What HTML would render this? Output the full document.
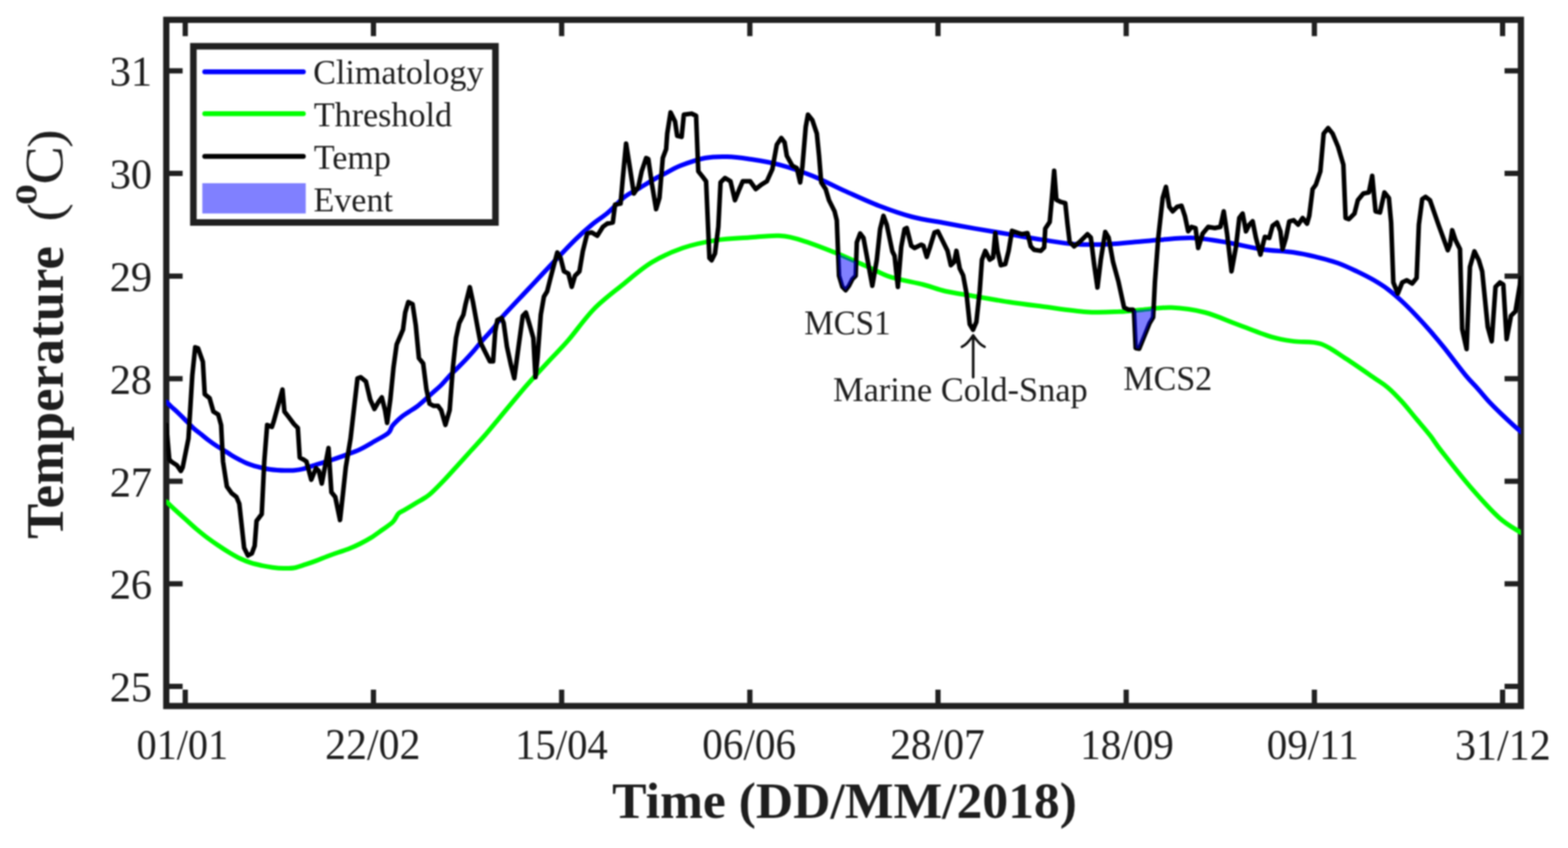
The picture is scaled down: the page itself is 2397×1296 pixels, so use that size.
<!DOCTYPE html><html><head><meta charset="utf-8"><style>html,body{margin:0;padding:0;background:#fff}body{width:2397px;height:1296px;overflow:hidden}svg{display:block;filter:blur(1.2px)}text{font-family:"Liberation Serif","Times New Roman",serif;fill:#1e1e1e}</style></head><body>
<svg width="2397" height="1296" viewBox="0 0 2397 1296">
<rect width="2397" height="1296" fill="#fff"/>
<path d="M283.2,1079.0 V1054.0 M283.2,30.3 V55.3 M570.9,1079.0 V1054.0 M570.9,30.3 V55.3 M858.6,1079.0 V1054.0 M858.6,30.3 V55.3 M1146.3,1079.0 V1054.0 M1146.3,30.3 V55.3 M1433.9,1079.0 V1054.0 M1433.9,30.3 V55.3 M1721.6,1079.0 V1054.0 M1721.6,30.3 V55.3 M2009.3,1079.0 V1054.0 M2009.3,30.3 V55.3 M2297.0,1079.0 V1054.0 M2297.0,30.3 V55.3 M254.2,1049.0 H279.2 M2325.0,1049.0 H2300.0 M254.2,892.2 H279.2 M2325.0,892.2 H2300.0 M254.2,735.4 H279.2 M2325.0,735.4 H2300.0 M254.2,578.7 H279.2 M2325.0,578.7 H2300.0 M254.2,421.9 H279.2 M2325.0,421.9 H2300.0 M254.2,265.1 H279.2 M2325.0,265.1 H2300.0 M254.2,108.3 H279.2 M2325.0,108.3 H2300.0" stroke="#202020" stroke-width="8" fill="none"/>
<rect x="254.2" y="30.3" width="2070.8" height="1048.7" fill="none" stroke="#202020" stroke-width="9.5"/>
<defs><clipPath id="pc"><rect x="254.2" y="30.3" width="2070.8" height="1048.7"/></clipPath></defs>
<g clip-path="url(#pc)">
<path d="M254.6,766.7 C256.6,768.7 261.9,774.0 266.7,778.4 C271.5,782.8 277.8,788.4 283.4,793.4 C289.0,798.4 294.5,803.7 300.1,808.4 C305.7,813.1 311.2,817.6 316.8,821.8 C322.4,826.0 327.9,829.8 333.5,833.5 C339.1,837.2 344.6,841.0 350.2,844.3 C355.8,847.6 361.3,850.9 366.9,853.5 C372.5,856.1 378.0,858.4 383.6,860.2 C389.2,862.0 394.8,863.2 400.3,864.4 C405.9,865.6 411.3,866.5 416.9,867.2 C422.4,867.9 428.0,868.4 433.6,868.5 C439.2,868.6 444.7,868.7 450.3,867.7 C455.9,866.7 461.4,864.5 467.0,862.7 C472.6,860.9 478.1,859.0 483.7,856.9 C489.3,854.8 494.8,852.3 500.4,850.2 C506.0,848.1 511.5,846.2 517.1,844.3 C522.7,842.3 528.2,840.7 533.8,838.5 C539.4,836.3 544.9,833.8 550.5,831.0 C556.1,828.2 561.6,825.3 567.2,821.8 C572.8,818.3 578.3,814.1 583.9,810.1 C589.5,806.1 596.4,801.8 600.6,797.6 C604.8,793.4 606.1,788.0 608.9,785.1 C611.7,782.2 613.1,782.6 617.3,780.1 C621.5,777.6 628.5,773.3 634.0,770.0 C639.5,766.7 645.6,763.4 650.0,760.5 C654.4,757.6 655.1,757.4 660.1,752.7 C665.1,748.1 673.4,739.6 680.1,732.6 C686.8,725.6 693.5,718.0 700.2,710.6 C706.9,703.2 713.5,695.9 720.2,688.5 C726.9,681.1 733.6,674.1 740.3,666.4 C747.0,658.7 753.7,650.4 760.4,642.4 C767.1,634.4 773.7,626.3 780.4,618.3 C787.1,610.3 794.5,601.2 800.5,594.2 C806.5,587.2 809.8,583.6 816.5,576.2 C823.2,568.9 831.9,559.5 840.6,550.1 C849.3,540.7 857.5,533.0 868.7,520.0 C879.9,507.1 894.0,486.6 907.9,472.4 C921.8,458.2 937.4,446.9 952.1,435.0 C966.8,423.1 980.9,410.4 996.2,401.1 C1011.5,391.8 1027.3,384.7 1043.7,379.0 C1060.1,373.3 1077.8,369.8 1094.7,367.1 C1111.6,364.4 1129.0,364.1 1145.0,363.0 C1161.0,361.9 1177.6,359.6 1190.9,360.3 C1204.2,361.0 1210.8,362.9 1224.9,367.1 C1239.1,371.4 1258.8,379.0 1275.8,385.8 C1292.8,392.6 1312.6,401.7 1326.8,407.9 C1341.0,414.1 1346.6,418.7 1360.7,423.2 C1374.8,427.7 1397.5,431.4 1411.6,435.0 C1425.6,438.6 1431.8,442.0 1445.0,445.0 C1458.2,448.0 1474.8,450.2 1490.9,453.0 C1507.1,455.8 1524.9,458.9 1541.9,461.5 C1558.9,464.1 1573.0,465.8 1592.8,468.3 C1612.6,470.8 1640.9,475.4 1660.7,476.7 C1680.5,478.0 1697.5,476.8 1711.6,476.3 C1725.6,475.8 1731.8,474.6 1745.0,473.5 C1758.2,472.4 1774.8,469.3 1790.9,470.0 C1807.1,470.7 1824.9,473.1 1841.9,477.5 C1858.9,481.9 1875.8,490.0 1892.8,496.2 C1909.8,502.4 1929.5,510.6 1943.7,514.8 C1957.9,519.0 1965.2,519.8 1977.7,521.6 C1990.2,523.4 2005.7,521.1 2019.0,525.5 C2032.3,529.9 2043.8,539.4 2057.3,548.0 C2070.8,556.6 2089.3,569.7 2100.0,577.1 C2110.7,584.5 2114.4,586.2 2121.6,592.3 C2128.8,598.4 2136.0,606.0 2143.2,613.9 C2150.4,621.8 2157.6,631.2 2164.8,639.8 C2172.0,648.4 2179.9,657.3 2186.4,665.7 C2192.9,674.1 2193.7,676.9 2204.0,690.0 C2214.3,703.1 2233.3,727.6 2248.0,744.5 C2262.7,761.4 2279.1,779.8 2291.9,791.4 C2304.7,803.0 2319.5,810.2 2325.0,814.0" fill="none" stroke="#00ff00" stroke-width="7" stroke-linejoin="round" stroke-linecap="round"/>
<path d="M254.6,614.3 C255.8,615.4 258.5,618.3 261.6,621.2 C264.7,624.1 269.2,628.0 273.1,631.7 C277.0,635.4 280.8,639.4 284.7,643.2 C288.6,647.1 292.4,651.3 296.3,654.8 C300.2,658.3 304.0,661.0 307.9,664.1 C311.8,667.2 315.5,670.4 319.4,673.3 C323.2,676.2 327.1,678.9 331.0,681.4 C334.9,683.9 338.7,686.0 342.6,688.4 C346.5,690.8 350.4,693.6 354.2,695.9 C358.0,698.2 361.8,700.3 365.7,702.3 C369.6,704.3 373.4,706.5 377.3,708.1 C381.2,709.7 385.0,711.0 388.9,712.1 C392.8,713.2 396.6,714.1 400.5,715.0 C404.4,715.9 408.1,716.7 412.0,717.3 C415.9,717.9 419.7,718.2 423.6,718.5 C427.5,718.8 430.8,719.0 435.2,719.0 C439.6,719.0 445.3,719.1 450.0,718.7 C454.7,718.3 457.5,718.1 463.4,716.6 C469.2,715.1 477.9,711.8 485.1,709.5 C492.3,707.2 499.6,705.4 506.8,703.0 C514.0,700.6 521.3,698.1 528.5,695.4 C535.7,692.7 543.0,690.2 550.2,686.8 C557.4,683.4 564.6,679.0 571.8,674.8 C579.0,670.6 588.8,665.8 593.5,661.8 C598.2,657.8 596.9,654.5 600.0,650.6 C603.1,646.7 608.2,641.8 612.3,638.3 C616.4,634.8 620.6,632.4 624.7,629.6 C628.8,626.8 632.9,624.7 637.0,621.6 C641.1,618.5 645.3,614.7 649.4,611.1 C653.5,607.5 657.6,603.7 661.7,600.0 C665.8,596.3 670.0,593.0 674.1,588.9 C678.2,584.8 682.3,579.6 686.4,575.3 C690.5,571.0 694.7,567.1 698.8,563.0 C702.9,558.9 707.0,554.9 711.1,550.6 C715.2,546.3 719.4,541.7 723.5,537.0 C727.6,532.3 731.7,526.9 735.8,522.2 C739.9,517.5 744.8,512.3 748.1,508.6 C751.4,504.9 752.5,503.9 755.6,500.0 C758.7,496.1 757.9,495.4 766.8,485.5 C775.7,475.6 795.9,454.4 808.9,440.5 C821.9,426.6 833.1,414.5 845.0,402.0 C856.9,389.5 870.0,375.4 880.0,365.7 C890.0,355.9 896.5,350.3 904.7,343.5 C912.9,336.7 921.2,331.9 929.4,324.9 C937.6,317.9 945.9,307.9 954.1,301.5 C962.3,295.1 970.6,291.6 978.8,286.7 C987.0,281.8 997.3,275.4 1003.5,271.9 C1009.7,268.4 1009.7,268.8 1015.8,265.7 C1021.9,262.6 1029.7,257.3 1040.0,253.3 C1050.3,249.3 1065.8,243.8 1077.7,241.5 C1089.6,239.2 1100.4,239.2 1111.6,239.5 C1122.8,239.8 1131.8,241.0 1145.0,243.0 C1158.2,245.0 1174.8,247.4 1190.9,251.7 C1207.1,256.0 1224.9,261.9 1241.9,268.7 C1258.9,275.5 1275.8,284.8 1292.8,292.4 C1309.8,300.0 1326.7,308.0 1343.7,314.5 C1360.7,321.0 1377.8,327.1 1394.7,331.5 C1411.6,335.9 1429.0,338.0 1445.0,341.0 C1461.0,344.0 1474.8,346.6 1490.9,349.4 C1507.1,352.2 1524.9,355.1 1541.9,357.9 C1558.9,360.7 1575.8,363.8 1592.8,366.4 C1609.8,368.9 1626.7,372.1 1643.7,373.2 C1660.7,374.3 1677.8,373.9 1694.7,373.2 C1711.6,372.5 1731.8,370.1 1745.0,369.0 C1758.2,367.9 1760.7,367.4 1774.0,366.5 C1787.3,365.6 1807.9,363.0 1824.9,363.7 C1841.9,364.4 1858.8,367.7 1875.8,370.5 C1892.8,373.3 1909.8,378.1 1926.8,380.7 C1943.8,383.2 1963.6,383.8 1977.7,385.8 C1991.8,387.8 2000.4,389.9 2011.6,392.6 C2022.8,395.3 2034.6,398.3 2045.0,402.0 C2055.4,405.7 2064.8,410.3 2074.0,414.7 C2083.2,419.1 2092.1,423.5 2100.0,428.1 C2107.9,432.7 2114.4,436.7 2121.6,442.1 C2128.8,447.5 2136.0,453.8 2143.2,460.5 C2150.4,467.2 2157.6,474.5 2164.8,482.1 C2172.0,489.7 2179.2,497.6 2186.4,505.9 C2193.6,514.2 2199.1,520.6 2208.0,531.8 C2216.9,543.0 2231.6,562.8 2240.0,573.0 C2248.4,583.2 2252.3,586.4 2258.5,593.3 C2264.7,600.2 2270.8,608.0 2277.0,614.6 C2283.2,621.2 2289.4,627.2 2295.6,633.1 C2301.8,639.0 2309.0,645.7 2314.1,650.3 C2319.2,654.9 2324.0,658.8 2326.0,660.5" fill="none" stroke="#0000ff" stroke-width="7" stroke-linejoin="round" stroke-linecap="round"/>
<path d="M254.4,649.6 L256.5,676.0 L258.8,702.3 L261.7,705.3 L270.5,711.1 L276.4,719.9 L279.3,714.1 L288.1,670.1 L294.0,573.3 L298.4,530.8 L302.8,532.3 L310.1,552.8 L313.0,602.6 L320.4,608.5 L326.2,629.0 L333.6,633.4 L338.0,649.6 L340.9,705.3 L346.8,743.4 L354.1,753.7 L361.4,759.5 L365.8,769.8 L373.2,837.2 L379.0,849.0 L384.9,846.0 L389.3,834.3 L392.2,796.2 L396.6,790.3 L400.1,785.9 L404.0,705.3 L408.4,649.6 L415.7,652.5 L418.6,643.7 L431.8,595.3 L434.8,629.0 L440.6,636.4 L449.4,648.1 L455.3,654.0 L458.2,699.4 L464.1,702.3 L468.5,705.3 L475.8,733.1 L483.1,715.5 L487.5,719.9 L491.9,739.0 L502.2,684.8 L506.6,752.2 L512.5,759.5 L519.8,794.7 L524.2,755.1 L528.6,714.1 L535.9,670.1 L546.5,578.2 L551.3,576.5 L559.4,583.0 L565.9,610.6 L572.4,625.1 L578.9,613.8 L583.7,607.3 L588.6,626.8 L591.8,646.2 L596.7,610.6 L601.5,562.0 L606.4,526.3 L611.3,515.0 L616.1,503.7 L619.4,477.7 L624.2,461.5 L630.7,464.8 L635.6,497.2 L640.4,547.4 L646.9,555.5 L651.8,594.4 L656.6,617.0 L663.1,620.3 L669.6,620.3 L674.4,626.8 L680.9,649.4 L687.4,626.8 L692.3,562.0 L697.1,516.6 L702.0,493.9 L708.4,481.0 L711.7,464.8 L718.2,438.9 L723.0,461.5 L729.5,497.2 L734.4,523.1 L740.8,536.1 L748.9,552.3 L753.8,552.3 L757.0,506.9 L760.3,489.1 L766.8,485.8 L770.0,493.9 L774.9,529.6 L781.3,558.7 L786.2,578.2 L792.7,529.6 L799.2,482.6 L804.0,477.7 L808.9,493.9 L815.3,516.6 L818.6,576.5 L821.8,545.8 L826.7,481.0 L831.5,453.4 L836.4,445.4 L841.3,425.9 L845.1,411.3 L851.9,385.8 L857.0,394.3 L862.1,414.7 L868.9,418.1 L874.0,438.4 L879.0,421.5 L885.8,414.7 L890.9,384.1 L897.7,356.9 L904.5,355.2 L913.0,360.3 L921.5,346.8 L928.3,341.7 L936.8,340.0 L940.2,312.8 L948.7,311.1 L952.1,272.1 L957.1,219.4 L962.2,251.7 L969.0,295.8 L975.8,285.6 L980.9,261.9 L987.7,241.5 L991.1,243.2 L996.2,278.8 L1003.0,319.6 L1008.1,302.6 L1013.2,241.5 L1018.3,227.9 L1020.0,204.1 L1025.1,171.9 L1031.9,185.5 L1035.2,207.5 L1042.0,209.2 L1045.4,175.3 L1057.3,173.6 L1064.1,177.0 L1067.5,261.9 L1074.3,270.4 L1079.4,277.1 L1084.5,394.3 L1087.9,397.7 L1093.0,387.5 L1098.1,346.8 L1101.5,278.8 L1108.3,272.1 L1116.7,277.1 L1123.5,306.0 L1130.3,289.0 L1135.4,277.1 L1146.8,277.1 L1155.3,289.0 L1163.8,282.2 L1172.3,277.1 L1180.7,258.5 L1187.5,221.1 L1194.3,210.9 L1199.4,217.7 L1202.8,238.1 L1211.3,253.4 L1218.1,256.8 L1223.2,278.8 L1226.6,255.1 L1231.7,194.0 L1235.1,175.3 L1241.9,183.8 L1248.7,204.1 L1252.1,238.1 L1255.4,278.8 L1262.2,289.0 L1267.3,306.0 L1275.8,323.0 L1279.2,336.6 L1282.6,421.5 L1287.7,438.4 L1292.8,443.5 L1297.9,436.7 L1303.0,426.6 L1308.1,421.5 L1309.8,370.5 L1314.9,356.9 L1320.0,363.7 L1333.5,436.7 L1340.3,397.7 L1345.4,350.2 L1350.5,329.8 L1355.6,343.4 L1364.1,384.1 L1367.5,390.9 L1372.6,438.4 L1377.7,377.3 L1382.8,350.2 L1386.2,348.5 L1393.0,375.6 L1398.1,379.0 L1408.3,373.9 L1411.6,375.6 L1416.7,392.6 L1421.8,377.3 L1428.6,355.2 L1433.7,353.5 L1438.8,363.7 L1448.5,383.4 L1453.6,405.4 L1458.7,400.3 L1462.1,383.4 L1467.2,410.5 L1472.3,420.7 L1477.4,447.9 L1482.4,495.4 L1487.5,503.9 L1492.6,492.0 L1497.7,444.5 L1501.1,396.9 L1506.2,383.4 L1513.0,396.9 L1518.1,393.5 L1521.5,356.2 L1524.9,383.4 L1530.0,405.4 L1536.8,403.7 L1541.9,383.4 L1547.0,352.8 L1557.1,356.2 L1562.2,357.9 L1570.7,356.2 L1575.8,376.6 L1580.9,381.7 L1591.1,383.4 L1596.2,378.3 L1597.9,349.4 L1604.7,339.2 L1608.1,301.9 L1611.5,261.1 L1614.9,305.3 L1621.7,308.7 L1628.5,310.4 L1631.9,342.6 L1635.2,369.8 L1642.0,376.6 L1650.5,369.8 L1662.4,357.9 L1667.5,363.0 L1672.6,403.7 L1677.7,439.4 L1682.8,396.9 L1689.6,354.5 L1694.7,363.0 L1701.5,400.3 L1709.9,430.9 L1718.4,469.9 L1725.2,473.3 L1732.0,473.3 L1733.5,476.1 L1736.1,532.0 L1741.5,533.0 L1757.4,493.9 L1762.8,485.0 L1763.6,470.0 L1765.5,431.6 L1770.6,363.7 L1777.4,302.6 L1782.4,285.6 L1787.5,316.2 L1792.6,323.0 L1799.4,316.2 L1806.2,314.5 L1811.3,329.8 L1816.4,353.5 L1821.5,346.8 L1827.6,348.5 L1831.7,379.0 L1838.5,356.9 L1847.0,346.8 L1857.1,348.5 L1865.6,346.8 L1870.7,323.0 L1875.8,356.9 L1882.6,414.7 L1889.4,377.3 L1894.5,333.2 L1899.6,326.4 L1904.7,353.5 L1909.8,343.4 L1914.9,338.3 L1920.0,363.7 L1926.8,389.2 L1933.5,362.0 L1940.3,363.7 L1945.4,345.1 L1952.2,340.0 L1957.3,353.5 L1960.7,380.7 L1965.8,363.7 L1970.9,338.3 L1977.7,336.6 L1984.5,343.4 L1991.3,333.2 L1998.1,341.7 L2001.5,329.8 L2006.6,289.0 L2011.6,282.2 L2018.4,261.9 L2023.5,204.1 L2030.3,195.7 L2037.1,204.1 L2045.6,224.5 L2053.6,251.7 L2057.0,333.2 L2062.1,334.9 L2070.6,326.4 L2075.7,306.0 L2084.1,295.8 L2092.6,294.1 L2097.7,268.7 L2102.8,323.0 L2109.6,324.7 L2116.4,294.1 L2123.2,302.6 L2126.6,340.0 L2130.0,431.6 L2136.8,448.6 L2143.6,431.6 L2150.4,428.3 L2158.8,433.3 L2165.6,424.9 L2169.0,343.4 L2174.1,304.3 L2179.2,300.9 L2186.0,306.0 L2199.6,345.1 L2213.2,382.4 L2216.6,373.9 L2220.0,351.9 L2225.1,367.1 L2231.9,380.7 L2235.2,503.0 L2242.0,533.5 L2247.1,407.9 L2253.9,384.1 L2260.7,397.7 L2265.8,414.7 L2274.3,499.6 L2280.4,521.6 L2286.2,438.4 L2293.0,431.6 L2298.1,435.0 L2303.2,518.2 L2309.9,482.6 L2316.7,475.8 L2325.2,424.9" fill="none" stroke="#000" stroke-width="7" stroke-linejoin="round" stroke-linecap="round"/>
<path d="M1281.3,388.1 L1282.8,388.7 L1284.2,389.3 L1285.7,389.9 L1287.1,390.5 L1288.6,391.1 L1290.0,391.7 L1291.4,392.3 L1292.9,392.9 L1294.3,393.6 L1295.8,394.2 L1297.2,394.8 L1298.7,395.4 L1300.1,396.1 L1301.5,396.7 L1303.0,397.3 L1304.4,398.0 L1305.9,398.6 L1307.3,399.2 L1308.8,399.9 L1308.8,401.1 L1308.7,402.4 L1308.7,403.6 L1308.6,404.9 L1308.6,406.2 L1308.5,407.5 L1308.5,408.7 L1308.5,410.0 L1308.4,411.3 L1308.4,412.5 L1308.3,413.8 L1308.3,415.1 L1308.3,416.4 L1308.2,417.6 L1308.2,418.9 L1308.1,420.2 L1308.1,421.5 L1308.0,421.6 L1307.8,421.7 L1307.7,421.8 L1307.6,422.0 L1307.4,422.1 L1307.3,422.2 L1307.2,422.4 L1307.1,422.5 L1306.9,422.6 L1306.8,422.7 L1306.7,422.9 L1306.6,423.0 L1306.4,423.1 L1306.3,423.2 L1306.2,423.4 L1306.0,423.5 L1305.9,423.6 L1305.8,423.8 L1305.7,423.9 L1305.5,424.0 L1305.4,424.1 L1305.3,424.3 L1305.2,424.4 L1305.0,424.5 L1304.9,424.6 L1304.8,424.8 L1304.6,424.9 L1304.5,425.0 L1304.4,425.2 L1304.3,425.3 L1304.1,425.4 L1304.0,425.5 L1303.9,425.7 L1303.8,425.8 L1303.6,425.9 L1303.5,426.0 L1303.4,426.2 L1303.2,426.3 L1303.1,426.4 L1303.0,426.6 L1302.9,426.8 L1302.7,427.1 L1302.6,427.3 L1302.5,427.6 L1302.4,427.8 L1302.2,428.1 L1302.1,428.3 L1302.0,428.6 L1301.8,428.8 L1301.7,429.1 L1301.6,429.4 L1301.5,429.6 L1301.3,429.9 L1301.2,430.1 L1301.1,430.4 L1301.0,430.6 L1300.8,430.9 L1300.7,431.1 L1300.6,431.4 L1300.4,431.6 L1300.3,431.9 L1300.2,432.2 L1300.1,432.4 L1299.9,432.7 L1299.8,432.9 L1299.7,433.2 L1299.6,433.4 L1299.4,433.7 L1299.3,433.9 L1299.2,434.2 L1299.0,434.4 L1298.9,434.7 L1298.8,435.0 L1298.7,435.2 L1298.5,435.5 L1298.4,435.7 L1298.3,436.0 L1298.1,436.2 L1298.0,436.5 L1297.9,436.7 L1297.8,436.9 L1297.6,437.1 L1297.5,437.2 L1297.4,437.4 L1297.3,437.6 L1297.1,437.8 L1297.0,437.9 L1296.9,438.1 L1296.7,438.3 L1296.6,438.4 L1296.5,438.6 L1296.4,438.8 L1296.2,438.9 L1296.1,439.1 L1296.0,439.3 L1295.9,439.5 L1295.7,439.6 L1295.6,439.8 L1295.5,440.0 L1295.3,440.1 L1295.2,440.3 L1295.1,440.5 L1295.0,440.6 L1294.8,440.8 L1294.7,441.0 L1294.6,441.2 L1294.5,441.3 L1294.3,441.5 L1294.2,441.7 L1294.1,441.8 L1293.9,442.0 L1293.8,442.2 L1293.7,442.3 L1293.6,442.5 L1293.4,442.7 L1293.3,442.9 L1293.2,443.0 L1293.1,443.2 L1292.9,443.4 L1292.8,443.5 L1292.7,443.4 L1292.5,443.3 L1292.4,443.1 L1292.3,443.0 L1292.2,442.9 L1292.0,442.8 L1291.9,442.6 L1291.8,442.5 L1291.7,442.4 L1291.5,442.3 L1291.4,442.1 L1291.3,442.0 L1291.1,441.9 L1291.0,441.7 L1290.9,441.6 L1290.8,441.5 L1290.6,441.4 L1290.5,441.2 L1290.4,441.1 L1290.3,441.0 L1290.1,440.9 L1290.0,440.7 L1289.9,440.6 L1289.7,440.5 L1289.6,440.3 L1289.5,440.2 L1289.4,440.1 L1289.2,440.0 L1289.1,439.8 L1289.0,439.7 L1288.9,439.6 L1288.7,439.5 L1288.6,439.3 L1288.5,439.2 L1288.3,439.1 L1288.2,438.9 L1288.1,438.8 L1288.0,438.7 L1287.8,438.6 L1287.7,438.4 L1287.6,438.0 L1287.5,437.6 L1287.3,437.2 L1287.2,436.7 L1287.1,436.3 L1286.9,435.9 L1286.8,435.5 L1286.7,435.0 L1286.6,434.6 L1286.4,434.2 L1286.3,433.8 L1286.2,433.3 L1286.1,432.9 L1285.9,432.5 L1285.8,432.1 L1285.7,431.6 L1285.5,431.2 L1285.4,430.8 L1285.3,430.4 L1285.2,429.9 L1285.0,429.5 L1284.9,429.1 L1284.8,428.7 L1284.7,428.3 L1284.5,427.8 L1284.4,427.4 L1284.3,427.0 L1284.1,426.6 L1284.0,426.1 L1283.9,425.7 L1283.8,425.3 L1283.6,424.9 L1283.5,424.4 L1283.4,424.0 L1283.3,423.6 L1283.1,423.2 L1283.0,422.7 L1282.9,422.3 L1282.7,421.9 L1282.6,421.5 L1282.5,419.3 L1282.4,417.2 L1282.4,415.1 L1282.3,413.0 L1282.2,410.8 L1282.1,408.7 L1282.0,406.6 L1281.9,404.5 L1281.9,402.4 L1281.8,400.2 L1281.7,398.1 L1281.6,396.0 L1281.5,393.9 L1281.4,391.7 L1281.3,389.6Z" fill="#0000ff" fill-opacity="0.5" stroke="none"/>
<path d="M1732.8,474.7 L1734.4,474.5 L1736.0,474.3 L1737.6,474.2 L1739.2,474.0 L1740.9,473.9 L1742.5,473.7 L1744.1,473.6 L1745.7,473.4 L1747.3,473.3 L1748.9,473.1 L1750.6,473.0 L1752.2,472.8 L1753.8,472.6 L1755.4,472.4 L1757.0,472.2 L1758.7,472.0 L1760.3,471.8 L1761.9,471.7 L1763.5,471.5 L1763.5,471.5 L1763.5,471.9 L1763.5,472.2 L1763.5,472.6 L1763.4,473.0 L1763.4,473.4 L1763.4,473.8 L1763.4,474.1 L1763.4,474.5 L1763.3,474.9 L1763.3,475.2 L1763.3,475.6 L1763.3,476.0 L1763.3,476.4 L1763.2,476.8 L1763.2,477.1 L1763.2,477.5 L1763.2,477.9 L1763.2,478.2 L1763.1,478.6 L1763.1,479.0 L1763.1,479.4 L1763.1,479.8 L1763.1,480.1 L1763.0,480.5 L1763.0,480.9 L1763.0,481.2 L1763.0,481.6 L1763.0,482.0 L1762.9,482.4 L1762.9,482.8 L1762.9,483.1 L1762.9,483.5 L1762.9,483.9 L1762.8,484.2 L1762.8,484.6 L1762.8,485.0 L1762.7,485.2 L1762.5,485.4 L1762.4,485.7 L1762.3,485.9 L1762.1,486.1 L1762.0,486.3 L1761.9,486.6 L1761.7,486.8 L1761.6,487.0 L1761.4,487.2 L1761.3,487.4 L1761.2,487.7 L1761.0,487.9 L1760.9,488.1 L1760.8,488.3 L1760.6,488.6 L1760.5,488.8 L1760.4,489.0 L1760.2,489.2 L1760.1,489.4 L1760.0,489.7 L1759.8,489.9 L1759.7,490.1 L1759.6,490.3 L1759.4,490.6 L1759.3,490.8 L1759.2,491.0 L1759.0,491.2 L1758.9,491.5 L1758.8,491.7 L1758.6,491.9 L1758.5,492.1 L1758.3,492.3 L1758.2,492.6 L1758.1,492.8 L1757.9,493.0 L1757.8,493.2 L1757.7,493.5 L1757.5,493.7 L1757.4,493.9 L1757.0,494.9 L1756.6,495.9 L1756.2,496.8 L1755.8,497.8 L1755.4,498.8 L1755.0,499.8 L1754.6,500.7 L1754.2,501.7 L1753.8,502.7 L1753.4,503.7 L1753.0,504.7 L1752.6,505.6 L1752.2,506.6 L1751.8,507.6 L1751.4,508.6 L1751.0,509.5 L1750.6,510.5 L1750.2,511.5 L1749.8,512.5 L1749.5,513.5 L1749.1,514.4 L1748.7,515.4 L1748.3,516.4 L1747.9,517.4 L1747.5,518.3 L1747.1,519.3 L1746.7,520.3 L1746.3,521.3 L1745.9,522.2 L1745.5,523.2 L1745.1,524.2 L1744.7,525.2 L1744.3,526.2 L1743.9,527.1 L1743.5,528.1 L1743.1,529.1 L1742.7,530.1 L1742.3,531.0 L1741.9,532.0 L1741.5,533.0 L1741.4,533.0 L1741.2,533.0 L1741.1,532.9 L1741.0,532.9 L1740.8,532.9 L1740.7,532.9 L1740.6,532.8 L1740.4,532.8 L1740.3,532.8 L1740.2,532.8 L1740.0,532.7 L1739.9,532.7 L1739.7,532.7 L1739.6,532.6 L1739.5,532.6 L1739.3,532.6 L1739.2,532.6 L1739.1,532.5 L1738.9,532.5 L1738.8,532.5 L1738.7,532.5 L1738.5,532.5 L1738.4,532.4 L1738.3,532.4 L1738.1,532.4 L1738.0,532.3 L1737.9,532.3 L1737.7,532.3 L1737.6,532.3 L1737.4,532.2 L1737.3,532.2 L1737.2,532.2 L1737.0,532.2 L1736.9,532.1 L1736.8,532.1 L1736.6,532.1 L1736.5,532.1 L1736.4,532.0 L1736.2,532.0 L1736.1,532.0 L1736.0,530.6 L1736.0,529.2 L1735.9,527.8 L1735.8,526.4 L1735.8,525.0 L1735.7,523.6 L1735.6,522.2 L1735.6,520.8 L1735.5,519.4 L1735.4,518.0 L1735.4,516.6 L1735.3,515.2 L1735.3,513.8 L1735.2,512.4 L1735.1,511.0 L1735.1,509.6 L1735.0,508.2 L1734.9,506.8 L1734.9,505.4 L1734.8,504.1 L1734.7,502.7 L1734.7,501.3 L1734.6,499.9 L1734.5,498.5 L1734.5,497.1 L1734.4,495.7 L1734.3,494.3 L1734.3,492.9 L1734.2,491.5 L1734.2,490.1 L1734.1,488.7 L1734.0,487.3 L1734.0,485.9 L1733.9,484.5 L1733.8,483.1 L1733.8,481.7 L1733.7,480.3 L1733.6,478.9 L1733.6,477.5 L1733.5,476.1 L1733.5,476.0 L1733.4,476.0 L1733.4,475.9 L1733.4,475.8 L1733.3,475.8 L1733.3,475.7 L1733.2,475.6 L1733.2,475.5 L1733.2,475.5 L1733.1,475.4 L1733.1,475.3 L1733.1,475.3 L1733.0,475.2 L1733.0,475.1 L1732.9,475.1 L1732.9,475.0 L1732.9,474.9 L1732.8,474.9 L1732.8,474.8 L1732.8,474.7Z" fill="#0000ff" fill-opacity="0.5" stroke="none"/>
</g>
<text transform="translate(167.65,1072.17) scale(0.6495,0.6627)" font-size="100">25</text>
<text transform="translate(167.65,915.39) scale(0.6495,0.6627)" font-size="100">26</text>
<text transform="translate(167.65,758.61) scale(0.6495,0.6627)" font-size="100">27</text>
<text transform="translate(167.65,601.82) scale(0.6495,0.6627)" font-size="100">28</text>
<text transform="translate(167.65,445.04) scale(0.6495,0.6627)" font-size="100">29</text>
<text transform="translate(167.65,288.26) scale(0.6495,0.6627)" font-size="100">30</text>
<text transform="translate(167.65,131.47) scale(0.6495,0.6627)" font-size="100">31</text>
<text transform="translate(208.84,1160.39) scale(0.6147,0.6574)" font-size="100">01/01</text>
<text transform="translate(497.04,1160.37) scale(0.6394,0.6672)" font-size="100">22/02</text>
<text transform="translate(787.40,1160.39) scale(0.6226,0.6574)" font-size="100">15/04</text>
<text transform="translate(1073.48,1160.37) scale(0.6303,0.6672)" font-size="100">06/06</text>
<text transform="translate(1360.86,1160.37) scale(0.6353,0.6672)" font-size="100">28/07</text>
<text transform="translate(1651.34,1160.39) scale(0.6284,0.6574)" font-size="100">18/09</text>
<text transform="translate(1936.59,1160.39) scale(0.6266,0.6574)" font-size="100">09/11</text>
<text transform="translate(2224.19,1161.03) scale(0.6424,0.6672)" font-size="100">31/12</text>
<text transform="translate(935.82,1249.80) scale(0.7890,0.7890)" font-size="100" font-weight="bold">Time (DD/MM/2018)</text>
<text transform="translate(95.6,823.41) rotate(-90) scale(0.805,0.805)" font-size="100" font-weight="bold">Temperature</text>
<text transform="translate(94.65,338.70) rotate(-90) scale(0.8500,0.7644)" font-size="100">(</text>
<text transform="translate(55.97,313.36) rotate(-90) scale(0.6405,0.4642)" font-size="100" font-weight="bold">0</text>
<text transform="translate(94.64,282.02) rotate(-90) scale(0.8807,0.8299)" font-size="100">C</text>
<text transform="translate(94.51,226.05) rotate(-90) scale(0.8500,0.7711)" font-size="100">)</text>
<text transform="translate(1229.48,510.73) scale(0.5052,0.5368)" font-size="100">MCS1</text>
<text transform="translate(1717.24,596.44) scale(0.5202,0.5284)" font-size="100">MCS2</text>
<text transform="translate(1273.52,613.20) scale(0.5250,0.5250)" font-size="100">Marine Cold-Snap</text>
<path d="M1487.7,576.5 V513.5 M1470.4,530 Q1478,527 1487.7,512.5 Q1497.4,527 1505.1,530" fill="none" stroke="#111" stroke-width="4" stroke-linecap="round" stroke-linejoin="round"/>
<rect x="295.6" y="70.7" width="461.79999999999995" height="269.3" fill="#fff" stroke="#202020" stroke-width="10"/>
<path d="M313,109.8 H463.7" stroke="#0000ff" stroke-width="7.5" stroke-linecap="round"/>
<path d="M313,173.8 H463.7" stroke="#00ff00" stroke-width="7.5" stroke-linecap="round"/>
<path d="M313,238.9 H463.7" stroke="#000" stroke-width="7.5" stroke-linecap="round"/>
<rect x="309.3" y="280" width="158.1" height="46.3" fill="#8080ff"/>
<text transform="translate(478.72,127.90) scale(0.5210,0.5210)" font-size="100">Climatology</text>
<text transform="translate(479.76,193.30) scale(0.5210,0.5210)" font-size="100">Threshold</text>
<text transform="translate(479.76,258.10) scale(0.5210,0.5210)" font-size="100">Temp</text>
<text transform="translate(479.24,323.30) scale(0.5210,0.5210)" font-size="100">Event</text>
</svg></body></html>
